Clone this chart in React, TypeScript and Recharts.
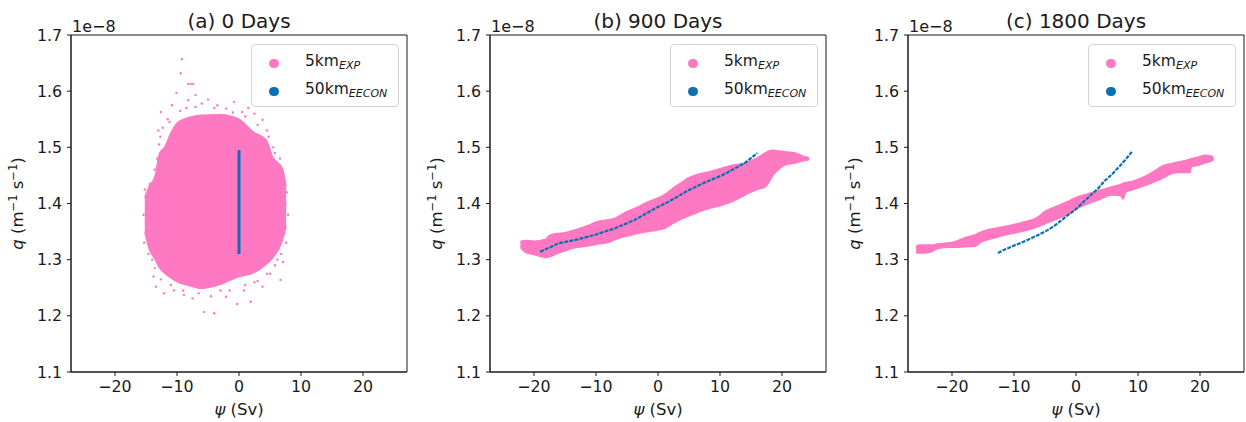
import React from 'react'
import { ComposedChart, Area, Line, Scatter, XAxis, YAxis, ReferenceArea } from 'recharts'

// ── Palette / fonts ───────────────────────────────────────────────────────────

const PINK = '#ff78c2'
const BLUE = '#0a70b4'
const INK = '#1a1a1a'
const FONT = '"DejaVu Sans", Verdana, sans-serif'

// ── Shared axes ───────────────────────────────────────────────────────────────

const xTicks = [-20, -10, 0, 10, 20]
const yTicks = [1.1, 1.2, 1.3, 1.4, 1.5, 1.6, 1.7]
const xDomain: [number, number] = [-27.1, 27.1]
const yDomain: [number, number] = [1.1, 1.7]

// ── (a) 0 Days: pink cloud outline (q range per psi), stray points, blue column

const bandA = [
  { x: -15.2, range: [1.35, 1.41] },
  { x: -14.5, range: [1.32, 1.43] },
  { x: -13.5, range: [1.3, 1.45] },
  { x: -12.8, range: [1.285, 1.49] },
  { x: -12, range: [1.276, 1.5] },
  { x: -11, range: [1.268, 1.525] },
  { x: -10, range: [1.261, 1.543] },
  { x: -8, range: [1.254, 1.553] },
  { x: -6, range: [1.249, 1.557] },
  { x: -3, range: [1.256, 1.558] },
  { x: 0, range: [1.27, 1.55] },
  { x: 2.2, range: [1.276, 1.528] },
  { x: 4.4, range: [1.292, 1.513] },
  { x: 5.4, range: [1.303, 1.483] },
  { x: 7, range: [1.335, 1.462] },
  { x: 7.6, range: [1.36, 1.43] },
]

const dotsA = [
  { x: -9.2, q: 1.657 }, { x: -9.4, q: 1.632 }, { x: -8.2, q: 1.613 }, { x: -7.8, q: 1.613 },
  { x: -7.4, q: 1.613 }, { x: -10.1, q: 1.597 }, { x: -7, q: 1.593 }, { x: -0.8, q: 1.581 },
  { x: -8.2, q: 1.584 }, { x: -3.5, q: 1.575 }, { x: -2.1, q: 1.569 }, { x: 0.5, q: 1.563 },
  { x: -12.6, q: 1.563 }, { x: 3.8, q: 1.549 }, { x: -12.7, q: 1.519 }, { x: 4.8, q: 1.519 },
  { x: 6.5, q: 1.469 }, { x: -14.4, q: 1.435 }, { x: -15.2, q: 1.425 }, { x: 6.9, q: 1.424 },
  { x: -4, q: 1.2045 }, { x: -5.6, q: 1.207 }, { x: 1.9, q: 1.225 }, { x: -0.3, q: 1.221 },
  { x: -7.5, q: 1.231 }, { x: -12.1, q: 1.24 }, { x: -13.4, q: 1.252 }, { x: 3.8, q: 1.252 },
  { x: 6.7, q: 1.264 }, { x: 7.1, q: 1.296 }, { x: -15, q: 1.365 }, { x: -8.9, q: 1.237 },
  { x: -2.1, q: 1.234 }, { x: 7.5, q: 1.4 }, { x: 7.3, q: 1.347 }, { x: -11.5, q: 1.55 },
  { x: -6, q: 1.578 }, { x: -5, q: 1.585 }, { x: 1.5, q: 1.57 }, { x: 2.5, q: 1.56 },
  { x: -10.8, q: 1.575 }, { x: -13, q: 1.53 }, { x: 5.5, q: 1.5 }, { x: -14.8, q: 1.39 },
  { x: -15.3, q: 1.33 }, { x: -14, q: 1.3 }, { x: -13.8, q: 1.27 }, { x: -10.5, q: 1.245 },
  { x: -3, q: 1.245 }, { x: 0.8, q: 1.245 }, { x: 2.5, q: 1.26 }, { x: 5, q: 1.275 },
  { x: 7.4, q: 1.44 }, { x: 6.2, q: 1.3 },
  // fringe just outside the dense core
  { x: -14.8, q: 1.35 }, { x: -14.2, q: 1.42 }, { x: -13.6, q: 1.46 }, { x: -13.2, q: 1.48 },
  { x: -12.9, q: 1.505 }, { x: -12.3, q: 1.535 }, { x: -11.2, q: 1.545 }, { x: -9.5, q: 1.565 },
  { x: -8.5, q: 1.57 }, { x: -7, q: 1.572 }, { x: -4, q: 1.57 }, { x: -1, q: 1.562 },
  { x: 1, q: 1.555 }, { x: 3, q: 1.54 }, { x: 4.5, q: 1.53 }, { x: 5.8, q: 1.49 },
  { x: 6.6, q: 1.48 }, { x: 7.7, q: 1.42 }, { x: 7.9, q: 1.38 }, { x: 7.6, q: 1.33 },
  { x: 6.8, q: 1.31 }, { x: 5.8, q: 1.29 }, { x: 4.5, q: 1.275 }, { x: 3, q: 1.262 },
  { x: 1, q: 1.255 }, { x: -1.5, q: 1.245 }, { x: -4.5, q: 1.235 }, { x: -6.5, q: 1.24 },
  { x: -9, q: 1.245 }, { x: -11, q: 1.255 }, { x: -12.6, q: 1.265 }, { x: -13.6, q: 1.285 },
  { x: -14.6, q: 1.31 }, { x: -15.4, q: 1.38 },
]

const lineA = [
  { x: 0, q: 1.31 },
  { x: 0, q: 1.4 },
  { x: 0, q: 1.495 },
]

// ── (b) 900 Days ──────────────────────────────────────────────────────────────

const bandB = [
  { x: -22.2, range: [1.322, 1.332] },
  { x: -21.5, range: [1.314, 1.334] },
  { x: -20, range: [1.309, 1.333] },
  { x: -18.2, range: [1.304, 1.336] },
  { x: -17.5, range: [1.305, 1.343] },
  { x: -16.5, range: [1.31, 1.346] },
  { x: -15, range: [1.316, 1.348] },
  { x: -13.4, range: [1.321, 1.353] },
  { x: -11.5, range: [1.324, 1.36] },
  { x: -9.7, range: [1.328, 1.368] },
  { x: -8, range: [1.331, 1.371] },
  { x: -6.9, range: [1.336, 1.374] },
  { x: -5.3, range: [1.341, 1.384] },
  { x: -3.2, range: [1.347, 1.394] },
  { x: -1.6, range: [1.35, 1.403] },
  { x: 0, range: [1.353, 1.41] },
  { x: 1.1, range: [1.356, 1.416] },
  { x: 2.5, range: [1.365, 1.428] },
  { x: 3.9, range: [1.373, 1.438] },
  { x: 4.8, range: [1.377, 1.445] },
  { x: 6.5, range: [1.385, 1.452] },
  { x: 8.5, range: [1.392, 1.457] },
  { x: 10.3, range: [1.397, 1.463] },
  { x: 12, range: [1.404, 1.468] },
  { x: 13.5, range: [1.412, 1.471] },
  { x: 14.5, range: [1.418, 1.474] },
  { x: 16, range: [1.425, 1.481] },
  { x: 17.3, range: [1.43, 1.49] },
  { x: 18, range: [1.44, 1.494] },
  { x: 18.4, range: [1.448, 1.495] },
  { x: 19.2, range: [1.458, 1.494] },
  { x: 20.5, range: [1.469, 1.492] },
  { x: 22.1, range: [1.472, 1.49] },
  { x: 23.4, range: [1.476, 1.484] },
  { x: 24.4, range: [1.478, 1.481] },
]

const lineB = [
  { x: -19, q: 1.314 }, { x: -16.1, q: 1.329 }, { x: -13, q: 1.336 }, { x: -10.2, q: 1.344 },
  { x: -6.9, q: 1.356 }, { x: -3.7, q: 1.371 }, { x: -0.5, q: 1.391 }, { x: 2, q: 1.405 },
  { x: 4.8, q: 1.423 }, { x: 7.5, q: 1.437 }, { x: 10.3, q: 1.45 }, { x: 12.5, q: 1.463 },
  { x: 14, q: 1.472 }, { x: 15.6, q: 1.486 }, { x: 16, q: 1.49 },
]

// ── (c) 1800 Days ─────────────────────────────────────────────────────────────

const bandC = [
  { x: -25.8, range: [1.313, 1.322] },
  { x: -25.5, range: [1.312, 1.326] },
  { x: -24.4, range: [1.312, 1.326] },
  { x: -23.3, range: [1.314, 1.326] },
  { x: -22.3, range: [1.32, 1.328] },
  { x: -20.5, range: [1.322, 1.33] },
  { x: -19.5, range: [1.322, 1.332] },
  { x: -17.9, range: [1.323, 1.339] },
  { x: -16.3, range: [1.324, 1.344] },
  { x: -15.2, range: [1.332, 1.35] },
  { x: -13.4, range: [1.338, 1.355] },
  { x: -11.5, range: [1.344, 1.359] },
  { x: -8.8, range: [1.35, 1.366] },
  { x: -6.1, range: [1.359, 1.376] },
  { x: -5, range: [1.364, 1.386] },
  { x: -3.4, range: [1.371, 1.394] },
  { x: -1.5, range: [1.38, 1.403] },
  { x: 0.3, range: [1.392, 1.412] },
  { x: 2.5, range: [1.402, 1.419] },
  { x: 4, range: [1.408, 1.424] },
  { x: 5.8, range: [1.415, 1.43] },
  { x: 7.2, range: [1.414, 1.434] },
  { x: 7.6, range: [1.408, 1.436] },
  { x: 8, range: [1.42, 1.437] },
  { x: 9, range: [1.424, 1.439] },
  { x: 11.1, range: [1.432, 1.448] },
  { x: 12.7, range: [1.439, 1.458] },
  { x: 13.8, range: [1.444, 1.466] },
  { x: 15.4, range: [1.453, 1.471] },
  { x: 16.5, range: [1.455, 1.474] },
  { x: 18.4, range: [1.455, 1.479] },
  { x: 18.6, range: [1.466, 1.48] },
  { x: 19.2, range: [1.467, 1.481] },
  { x: 20.8, range: [1.472, 1.486] },
  { x: 21.9, range: [1.476, 1.484] },
  { x: 22.2, range: [1.478, 1.48] },
]

const lineC = [
  { x: -12.6, q: 1.312 }, { x: -11.5, q: 1.318 }, { x: -9.8, q: 1.326 }, { x: -8, q: 1.334 },
  { x: -6.1, q: 1.344 }, { x: -4.5, q: 1.353 }, { x: -3.4, q: 1.361 }, { x: -1.8, q: 1.375 },
  { x: 0, q: 1.39 }, { x: 1.5, q: 1.406 }, { x: 3.5, q: 1.426 }, { x: 4.6, q: 1.44 },
  { x: 5.8, q: 1.452 }, { x: 7, q: 1.466 }, { x: 7.9, q: 1.477 }, { x: 9, q: 1.492 },
]

// ── Legend entries ────────────────────────────────────────────────────────────

const legendItems = [
  { base: '5km', sub: 'EXP', color: PINK },
  { base: '50km', sub: 'EECON', color: BLUE },
]

// ── Labels ────────────────────────────────────────────────────────────────────

const TICK_FS = 15.8
const fmtX = (v: number) => (v < 0 ? `\u2212${Math.abs(v)}` : `${v}`)

function XLabel({ viewBox }: any) {
  const { x, y, width } = viewBox
  return (
    <text x={x + width / 2} y={y + 43} textAnchor="middle" fontSize={16.5} fontFamily={FONT} fill={INK}>
      <tspan fontStyle="italic">ψ</tspan> (Sv)
    </text>
  )
}

function YLabel({ viewBox }: any) {
  const { x, y, width, height } = viewBox
  const plotLeft = x + width
  const bx = plotLeft - 48
  const cy = y + height / 2
  return (
    <g fontFamily={FONT} fill={INK}>
      <text x={plotLeft + 1} y={y - 3.5} fontSize={16}>1e−8</text>
      <text x={bx} y={cy} textAnchor="middle" fontSize={16.5} transform={`rotate(-90, ${bx}, ${cy})`}>
        <tspan fontStyle="italic">q</tspan> (m
        <tspan dy={-6.5} fontSize={11.5}>−1</tspan>
        <tspan dy={6.5}> s</tspan>
        <tspan dy={-6.5} fontSize={11.5}>−1</tspan>
        <tspan dy={6.5}>)</tspan>
      </text>
    </g>
  )
}

function TitleLabel({ viewBox, text }: any) {
  const { x, y, width } = viewBox
  return (
    <text x={x + width / 2} y={y - 7} textAnchor="middle" fontSize={20} fontFamily={FONT} fill={INK}>
      {text}
    </text>
  )
}

function PanelLegend({ left }: { left: number }) {
  return (
    <div
      style={{
        position: 'absolute', left, top: 44, width: 148, height: 63, boxSizing: 'border-box',
        border: '1px solid #d4d4d4', borderRadius: 4, background: 'rgba(255,255,255,0.85)',
        fontFamily: FONT, fontSize: 15.5, color: INK,
      }}
    >
      {legendItems.map((it, i) => (
        <div key={it.base} style={{ position: 'absolute', left: 0, top: 6 + i * 28, height: 20, lineHeight: '20px', width: '100%' }}>
          <span style={{ position: 'absolute', left: 17, top: 7.5, width: 9.5, height: 9.5, borderRadius: '50%', background: it.color }} />
          <span style={{ position: 'absolute', left: 53, top: 0, whiteSpace: 'nowrap' }}>
            {it.base}
            <span style={{ fontStyle: 'italic', fontSize: 11, position: 'relative', top: 3 }}>{it.sub}</span>
          </span>
        </div>
      ))}
    </div>
  )
}

// ── Panel ─────────────────────────────────────────────────────────────────────

type Pt = { x: number; q: number }
type Band = { x: number; range: number[] }

function Panel({
  title, left, width, marginLeft, marginRight, band, dots, line, lineWidth,
}: {
  title: string; left: number; width: number; marginLeft: number; marginRight: number
  band: Band[]; dots?: Pt[]; line: Pt[]; lineWidth: number
}) {
  const plotLeft = marginLeft + 45
  return (
    <div style={{ position: 'absolute', left, top: 0, width, height: 422 }}>
      <ComposedChart width={width} height={422} margin={{ top: 35, right: marginRight, bottom: 20, left: marginLeft }}>
        <XAxis
          type="number" dataKey="x" domain={xDomain} ticks={xTicks} allowDataOverflow height={30}
          tickSize={4} tickMargin={5} tickFormatter={fmtX} stroke={INK}
          tick={{ fill: INK, fontSize: TICK_FS, fontFamily: FONT }} label={<XLabel />}
        />
        <YAxis
          type="number" dataKey="q" domain={yDomain} ticks={yTicks} allowDataOverflow width={45}
          tickSize={4} tickMargin={5} tickFormatter={(v: number) => v.toFixed(1)} stroke={INK}
          tick={{ fill: INK, fontSize: TICK_FS, fontFamily: FONT }} label={<YLabel />}
        />
        <Area
          data={band} dataKey="range" type="monotone" fill={PINK} fillOpacity={1}
          stroke={PINK} strokeWidth={1.5} isAnimationActive={false}
        />
        {dots && (
          <Scatter
            data={dots} dataKey="q" fill={PINK} isAnimationActive={false}
            shape={(p: any) => <circle cx={p.cx} cy={p.cy} r={1.2} fill={PINK} />}
          />
        )}
        <Line
          data={line} dataKey="q" type="linear" stroke={BLUE} strokeWidth={lineWidth}
          strokeDasharray={lineWidth < 3 ? '4 1.2' : undefined} dot={false} isAnimationActive={false}
        />
        <ReferenceArea
          x1={xDomain[0]} x2={xDomain[1]} y1={yDomain[0]} y2={yDomain[1]}
          fill="none" fillOpacity={0} stroke={INK} strokeWidth={1} label={<TitleLabel text={title} />}
        />
      </ComposedChart>
      <PanelLegend left={plotLeft + 180} />
    </div>
  )
}

export default function App() {
  return (
    <div style={{ position: 'absolute', left: 0, top: 0, width: 1246, height: 422, background: '#fff', fontFamily: FONT }}>
      <Panel title="(a) 0 Days" left={0} width={420} marginLeft={26} marginRight={13} band={bandA} dots={dotsA} line={lineA} lineWidth={3} />
      <Panel title="(b) 900 Days" left={420} width={410} marginLeft={25} marginRight={4} band={bandB} line={lineB} lineWidth={2.2} />
      <Panel title="(c) 1800 Days" left={830} width={416} marginLeft={33} marginRight={2} band={bandC} line={lineC} lineWidth={2.2} />
    </div>
  )
}
